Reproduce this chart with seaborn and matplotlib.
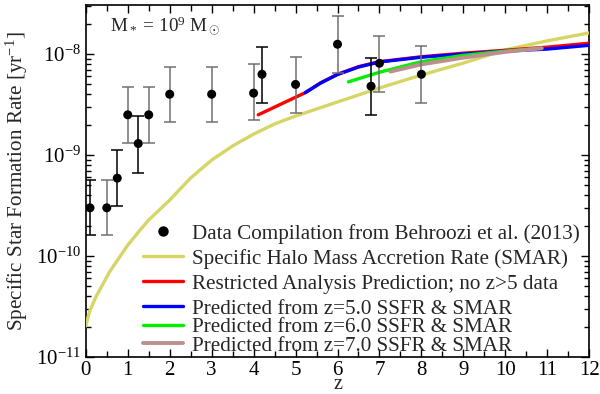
import numpy as np
import pandas as pd
import matplotlib
matplotlib.use("Agg")
import matplotlib.pyplot as plt
from matplotlib.lines import Line2D
from matplotlib.ticker import MultipleLocator, LogLocator
import seaborn as sns

# ---------------- data ----------------
obs_z = [0.1, 0.5, 0.75, 1.0, 1.25, 1.5, 2.0, 3.0, 4.0, 4.2, 5.0, 6.0, 6.8, 7.0, 8.0]
obs_ssfr = [3.0e-10, 3.0e-10, 5.9e-10, 2.5e-9, 1.3e-9, 2.5e-9, 4.0e-9, 4.0e-9,
            4.1e-9, 6.3e-9, 5.0e-9, 1.25e-8, 4.8e-9, 8.1e-9, 6.3e-9]
obs_hi = [5.7e-10, 5.7e-10, 1.12e-9, 4.7e-9, 2.45e-9, 4.7e-9, 7.5e-9, 7.5e-9,
          7.9e-9, 1.18e-8, 9.4e-9, 2.37e-8, 9.1e-9, 1.51e-8, 1.2e-8]
obs_lo = [1.6e-10, 1.6e-10, 3.1e-10, 1.3e-9, 6.7e-10, 1.3e-9, 2.1e-9, 2.1e-9,
          2.2e-9, 3.3e-9, 2.6e-9, 6.5e-9, 2.5e-9, 4.2e-9, 3.3e-9]

smar_z = [0.0, 0.05, 0.1, 0.25, 0.57, 1.0, 1.29, 1.5, 2.0, 2.5, 3.0, 3.5, 4.0, 4.5, 5.0,
          6.0, 7.0, 8.0, 9.0, 10.0, 11.0, 12.0]
smar_v = [2.03e-11, 2.45e-11, 2.9e-11, 4.0e-11, 7.0e-11, 1.28e-10, 1.8e-10, 2.27e-10,
          3.58e-10, 5.92e-10, 8.91e-10, 1.23e-9, 1.61e-9, 2.03e-9, 2.43e-9, 3.35e-9,
          4.61e-9, 6.2e-9, 8.14e-9, 1.1e-8, 1.35e-8, 1.62e-8]

restr_z = [4.11, 5.23, 5.6, 6.0, 6.5, 7.0, 8.0, 9.0, 10.0, 11.0, 12.0]
restr_v = [2.5e-9, 4.14e-9, 5.2e-9, 6.3e-9, 7.5e-9, 8.4e-9, 9.4e-9, 1.02e-8, 1.09e-8,
           1.17e-8, 1.28e-8]

p5_z = [5.23, 5.6, 6.0, 6.5, 7.0, 8.0, 9.0, 10.0, 11.0, 12.0]
p5_v = [4.14e-9, 5.16e-9, 6.27e-9, 7.43e-9, 8.34e-9, 9.3e-9, 1.0e-8, 1.07e-8, 1.12e-8,
        1.22e-8]

p6_z = [6.26, 7.0, 8.0, 9.0, 10.0, 10.85]
p6_v = [5.3e-9, 6.6e-9, 8.4e-9, 9.7e-9, 1.07e-8, 1.14e-8]

p7_z = [7.26, 8.0, 9.0, 10.0, 10.87]
p7_v = [6.7e-9, 7.9e-9, 9.2e-9, 1.05e-8, 1.14e-8]

labels = ["Data Compilation from Behroozi et al. (2013)",
          "Specific Halo Mass Accretion Rate (SMAR)",
          "Restricted Analysis Prediction; no z>5 data",
          "Predicted from z=5.0 SSFR & SMAR",
          "Predicted from z=6.0 SSFR & SMAR",
          "Predicted from z=7.0 SSFR & SMAR"]

# ---------------- style ----------------
sns.set_theme(style="ticks")
plt.rcParams["font.family"] = ["Liberation Serif", "DejaVu Serif"]
plt.rcParams["mathtext.fontset"] = "custom"
plt.rcParams["mathtext.rm"] = "Liberation Serif"
plt.rcParams["mathtext.it"] = "Liberation Serif:italic"
plt.rcParams["mathtext.bf"] = "Liberation Serif:bold"
FS = 15.2
TFS = 15.0
FSPX = FS * 100 / 72.0

fig = plt.figure(figsize=(6.0, 3.94), dpi=100)
ax = fig.add_axes([0.143, 0.094, 0.839, 0.893])

err_colors = ["black", "#707070", "black", "#707070", "black", "#707070", "#707070",
              "#707070", "#707070", "black", "#707070", "#707070", "black", "#707070", "#707070"]

line_specs = [
    (smar_z, smar_v, "#d6d666", 2.4, labels[1]),
    (restr_z, restr_v, "#ff0000", 2.4, labels[2]),
    (p5_z, p5_v, "#0000ff", 2.4, labels[3]),
    (p6_z, p6_v, "#00ee00", 2.4, labels[4]),
    (p7_z, p7_v, "#bc8f8f", 2.8, labels[5]),
]
handles = []
for zz, vv, col, lw, lab in line_specs:
    df = pd.DataFrame({"z": zz, "v": vv})
    sns.lineplot(data=df, x="z", y="v", color=col, lw=lw, ax=ax, legend=False,
                 estimator=None, sort=True, zorder=3)
    handles.append(Line2D([], [], color=col, lw=lw))

obs = pd.DataFrame({"z": obs_z, "v": obs_ssfr, "hi": obs_hi, "lo": obs_lo})
for i, row in obs.iterrows():
    ax.errorbar(row["z"], row["v"], yerr=[[row["v"] - row["lo"]], [row["hi"] - row["v"]]],
                fmt="none", ecolor=err_colors[i], elinewidth=1.1, capsize=4.2,
                capthick=1.1, zorder=4)
sns.scatterplot(data=obs, x="z", y="v", color="black", s=42, edgecolor="none",
                ax=ax, zorder=5, legend=False)
data_handle = Line2D([], [], color="black", marker="o", ls="none", markersize=6.5)

ax.set_yscale("log")
ax.set_xlim(0, 12)
ax.set_ylim(1e-11, 3.05e-8)
ax.xaxis.set_major_locator(MultipleLocator(1))
ax.xaxis.set_minor_locator(MultipleLocator(0.5))
ax.yaxis.set_major_locator(LogLocator(base=10, numticks=10))
ax.yaxis.set_minor_locator(LogLocator(base=10, subs=np.arange(2, 10), numticks=20))
ax.tick_params(which="both", direction="in", top=True, right=True, colors="black",
               labelsize=TFS, width=1.0)
ax.tick_params(which="major", length=6)
ax.tick_params(which="minor", length=3.5)
ax.tick_params(axis="x", which="minor", length=4)
ax.tick_params(axis="x", which="major", pad=3)
for sp in ax.spines.values():
    sp.set_linewidth(1.2)
    sp.set_color("black")

ax.set_xlabel("z", fontsize=14.5, labelpad=-4)
ax.set_ylabel(r"Specific Star Formation Rate [yr$^{-1}$]", fontsize=FS, labelpad=4)

ax.text(0.048, 0.94, r"M$_*$ = 10$^9$ M$_\odot$", transform=ax.transAxes,
        fontsize=13.8, va="center", ha="left")

hl = 40.0 / FSPX
htp = 9.0 / FSPX
leg1 = ax.legend([data_handle, handles[0], handles[1]], labels[:3], loc="upper left",
                 bbox_to_anchor=(0.113, 0.378), frameon=False, fontsize=FS, borderpad=0,
                 handlelength=hl, handletextpad=htp, labelspacing=0.24,
                 borderaxespad=0, numpoints=1)
ax.add_artist(leg1)
ax.legend(handles[2:], labels[3:], loc="upper left",
          bbox_to_anchor=(0.113, 0.165), frameon=False, fontsize=FS, borderpad=0,
          handlelength=hl, handletextpad=htp, labelspacing=-0.06,
          borderaxespad=0)

fig.savefig("out.png", dpi=100)
